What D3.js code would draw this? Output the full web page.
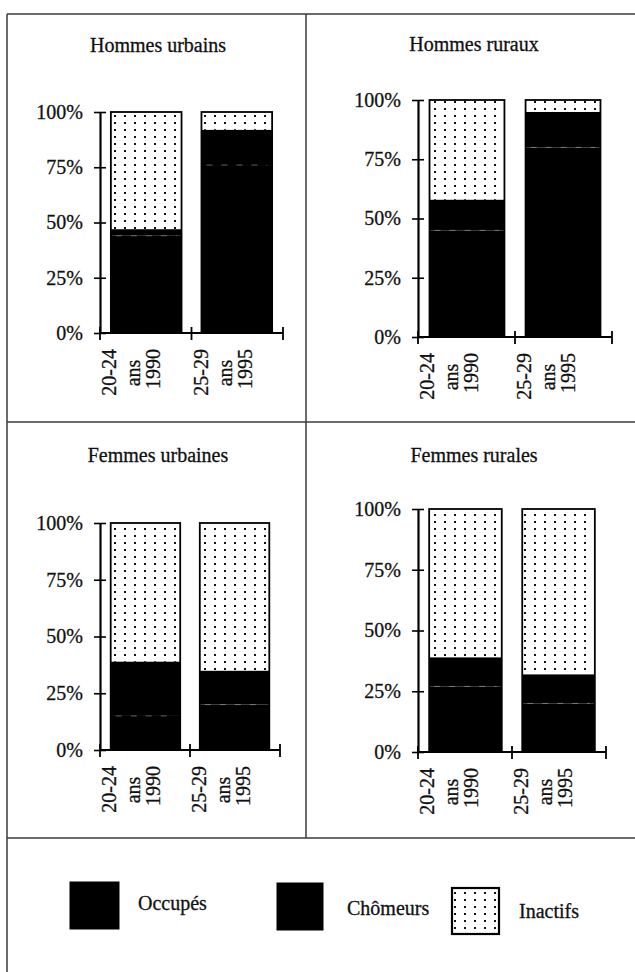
<!DOCTYPE html>
<html>
<head>
<meta charset="utf-8">
<script src="https://cdn.jsdelivr.net/npm/d3@7"></script>
<style>
  html, body { margin: 0; padding: 0; background: #fff; }
  svg { display: block; }
  text { font-family: "Liberation Serif", "Times New Roman", serif; fill: #111; stroke: #111; stroke-width: 0.3px; }
</style>
</head>
<body>
<script>
// ---------------- DATA ----------------
const panelTitles = ["Hommes urbains", "Hommes ruraux", "Femmes urbaines", "Femmes rurales"];
const categories = [["20-24", "ans", "1990"], ["25-29", "ans", "1995"]];
const occupes  = [[44, 76], [45, 80], [15, 20], [27, 20]];
const chomeurs = [[3, 16], [13, 15], [24, 15], [12, 12]];
const inactifs = [[53, 8], [42, 5], [61, 65], [61, 68]];
const yTicks = [0, 25, 50, 75, 100];
const legendLabels = ["Occupés", "Chômeurs", "Inactifs"];
const seriesKeys = ["occ", "cho", "ina"];

// ---------------- LAYOUT ----------------
const W = 635, H = 972;
const panelLayout = [
  { x0: 100, x1: 283, y0: 333, y1: 112, tx: 158, ty: 52 },
  { x0: 418, x1: 612, y0: 337, y1: 100, tx: 474, ty: 51 },
  { x0: 100, x1: 280, y0: 750, y1: 523, tx: 158, ty: 462 },
  { x0: 418, x1: 606, y0: 752, y1: 509, tx: 474, ty: 462 }
];
const legendLayout = [
  { bx: 70,  by: 882, bw: 49, bh: 47, lx: 138, ly: 910 },
  { bx: 277, by: 883, bw: 46, bh: 47, lx: 347, ly: 915 },
  { bx: 452, by: 888, bw: 47, bh: 46, lx: 519, ly: 918 }
];
const fills = { occ: "#000", cho: "#000", ina: "url(#dots)" };
const labelOffsets = [16, 40, 60];

const svg = d3.select("body").append("svg").attr("width", W).attr("height", H);

// dotted pattern
const defs = svg.append("defs");
const pat = defs.append("pattern").attr("id", "dots").attr("patternUnits", "userSpaceOnUse")
  .attr("width", 10).attr("height", 7);
pat.append("rect").attr("width", 10).attr("height", 7).attr("fill", "#fff");
pat.append("rect").attr("x", 4).attr("y", 3).attr("width", 2).attr("height", 2).attr("fill", "#111");

svg.append("rect").attr("width", W).attr("height", H).attr("fill", "#fff");

// frame lines
const frame = svg.append("g").attr("stroke", "#3a3a3a").attr("stroke-width", 1.5);
frame.append("line").attr("x1", 7).attr("x2", W).attr("y1", 14).attr("y2", 14);
frame.append("line").attr("x1", 7).attr("x2", 7).attr("y1", 14).attr("y2", H);
frame.append("line").attr("x1", 306).attr("x2", 306).attr("y1", 14).attr("y2", 838);
frame.append("line").attr("x1", 7).attr("x2", W).attr("y1", 422).attr("y2", 422);
frame.append("line").attr("x1", 7).attr("x2", W).attr("y1", 838).attr("y2", 838);

panelTitles.forEach((title, i) => {
  const L = panelLayout[i];
  const g = svg.append("g");
  const x = d3.scaleBand().domain([0, 1]).range([L.x0, L.x1]).paddingInner(0.22).paddingOuter(0.12);
  const y = d3.scaleLinear().domain([0, 100]).range([L.y0, L.y1]);
  const rows = [0, 1].map(j => ({ cat: j, occ: occupes[i][j], cho: chomeurs[i][j], ina: inactifs[i][j] }));
  const stacked = d3.stack().keys(seriesKeys)(rows);

  g.append("text").attr("x", L.tx).attr("y", L.ty).attr("text-anchor", "middle")
    .attr("font-size", 20).text(title);

  stacked.forEach(s => {
    g.selectAll(null).data(s).enter().append("rect")
      .attr("x", d => x(d.data.cat))
      .attr("width", x.bandwidth())
      .attr("y", d => y(d[1]))
      .attr("height", d => y(d[0]) - y(d[1]))
      .attr("fill", fills[s.key]);
  });
  // bar outlines
  g.selectAll(null).data(rows).enter().append("rect")
    .attr("x", d => x(d.cat)).attr("width", x.bandwidth())
    .attr("y", y(100)).attr("height", y(0) - y(100))
    .attr("fill", "none").attr("stroke", "#000").attr("stroke-width", 1.8);
  // faint boundary between Occupés and Chômeurs
  g.selectAll(null).data(rows).enter().append("line")
    .attr("x1", d => x(d.cat) + 5).attr("x2", d => x(d.cat) + x.bandwidth() - 5)
    .attr("y1", d => y(d.occ)).attr("y2", d => y(d.occ))
    .attr("stroke", "#bbb").attr("stroke-width", 1).attr("stroke-dasharray", "6 9")
    .attr("opacity", 0.5);

  // y axis
  const ya = g.append("g").attr("transform", `translate(${L.x0},0)`)
    .call(d3.axisLeft(y).tickValues(yTicks).tickFormat(d => d + "%").tickSize(6).tickSizeOuter(0).tickPadding(11));
  ya.select(".domain").attr("stroke", "#000").attr("stroke-width", 2.2);
  ya.selectAll(".tick line").attr("x1", 6).attr("stroke", "#000").attr("stroke-width", 1.6);
  ya.selectAll(".tick text").attr("font-family", '"Liberation Serif", "Times New Roman", serif')
    .attr("font-size", 20).attr("fill", "#111");

  // x axis
  const mid = (x(0) + x.bandwidth() + x(1)) / 2;
  g.append("line").attr("x1", L.x0).attr("x2", L.x1).attr("y1", y(0)).attr("y2", y(0))
    .attr("stroke", "#000").attr("stroke-width", 2.2);
  g.selectAll(null).data([L.x0, mid, L.x1]).enter().append("line")
    .attr("x1", d => d).attr("x2", d => d).attr("y1", y(0) - 6).attr("y2", y(0) + 7)
    .attr("stroke", "#000").attr("stroke-width", 1.8);

  // rotated category labels
  const starts = [L.x0, mid];
  categories.forEach((lines, j) => {
    lines.forEach((t, k) => {
      const bx = starts[j] + labelOffsets[k];
      const isMid = k === 1;
      const cy = isMid ? y(0) + 40 : y(0) + 16;
      g.append("text")
        .attr("transform", `translate(${bx},${cy}) rotate(-90)`)
        .attr("text-anchor", isMid ? "middle" : "end")
        .attr("font-size", 20).text(t);
    });
  });
});

// legend
legendLabels.forEach((lab, i) => {
  const L = legendLayout[i];
  const key = seriesKeys[i];
  svg.append("rect").attr("x", L.bx).attr("y", L.by).attr("width", L.bw).attr("height", L.bh)
    .attr("fill", fills[key]).attr("stroke", "#000").attr("stroke-width", key === "ina" ? 2.2 : 1);
  svg.append("text").attr("x", L.lx).attr("y", L.ly).attr("font-size", 20).text(lab);
});
</script>
</body>
</html>
